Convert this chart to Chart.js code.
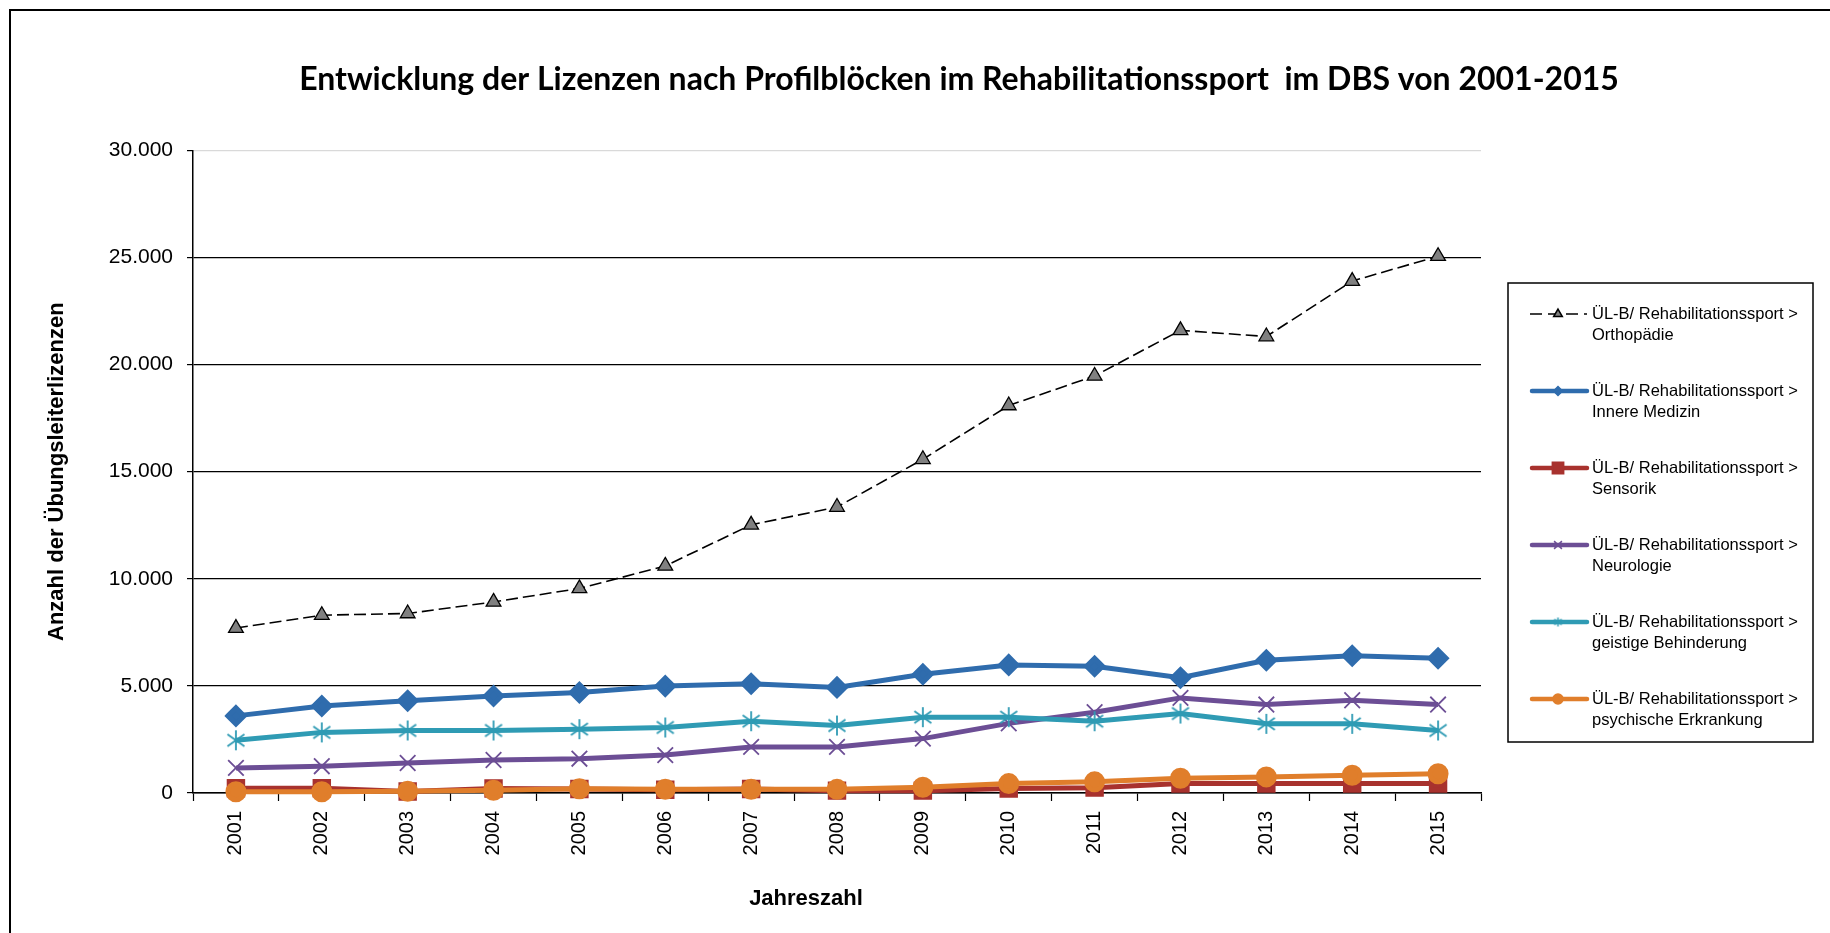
<!DOCTYPE html>
<html>
<head>
<meta charset="utf-8">
<title>Lizenzen nach Profilblöcken</title>
<script src="https://cdn.jsdelivr.net/npm/chart.js@4/dist/chart.umd.min.js"></script>
<style>
  body { margin: 0; background: #fff; }
  canvas { display: block; }
</style>
</head>
<body>
<canvas id="chartLizenzen" width="1830" height="933"></canvas>
<script>
const years = ['2001', '2002', '2003', '2004', '2005', '2006', '2007', '2008', '2009', '2010', '2011', '2012', '2013', '2014', '2015']

const orthopaedie = [7700, 8300, 8380, 8920, 9550, 10600, 12520, 13350, 15580, 18090, 19470, 21600, 21310, 23900, 25060]
const innereMedizin = [3600, 4060, 4310, 4530, 4690, 4990, 5100, 4930, 5540, 5980, 5920, 5380, 6200, 6410, 6290]
const sensorik = [220, 220, 70, 210, 190, 150, 190, 110, 110, 210, 250, 440, 440, 440, 440]
const neurologie = [1170, 1250, 1400, 1540, 1600, 1770, 2150, 2150, 2540, 3250, 3770, 4440, 4130, 4330, 4130]
const geistigeBehinderung = [2460, 2830, 2920, 2920, 2980, 3060, 3350, 3150, 3540, 3540, 3350, 3710, 3230, 3230, 2920]
const psychischeErkrankung = [60, 60, 80, 130, 200, 170, 170, 170, 270, 440, 520, 690, 750, 830, 900]

const labelPrefix = 'ÜL-B/ Rehabilitationssport >'
const seriesNames = ['Orthopädie', 'Innere Medizin', 'Sensorik', 'Neurologie', 'geistige Behinderung', 'psychische Erkrankung']

const yTicks = [0, 5000, 10000, 15000, 20000, 25000, 30000]

const blue = '#2f6cad'
const red = '#a8322e'
const purple = '#6c4e95'
const teal = '#2f9bb4'
const orange = '#e07e2b'

// asterisk marker like the Excel one (vertical bar + x)
function makeAsterisk(color, r, lw) {
    const c = document.createElement('canvas')
    c.width = c.height = r * 2 + 4
    const g = c.getContext('2d')
    const m = r + 2
    g.strokeStyle = color
    g.lineWidth = lw
    g.beginPath()
    g.moveTo(m, m - r); g.lineTo(m, m + r)
    const d = r * 0.85
    g.moveTo(m - d, m - d * 0.7); g.lineTo(m + d, m + d * 0.7)
    g.moveTo(m - d, m + d * 0.7); g.lineTo(m + d, m - d * 0.7)
    g.stroke()
    return c
}
const asteriskBig = makeAsterisk(teal, 10, 1.8)
const asteriskSmall = makeAsterisk(teal, 4.5, 1.5)

const formatDE = v => String(v).replace(/\B(?=(\d{3})+(?!\d))/g, '.')

const frame = {
    id: 'frame',
    afterLayout(chart) {
        // title is centred over the whole picture, not only the plot part
        const t = chart.titleBlock
        if (t) { t.left = 88; t.right = 1830 }
    },
    beforeDraw(chart) {
        const ctx = chart.ctx
        ctx.save()
        ctx.strokeStyle = '#000'
        ctx.lineWidth = 2
        ctx.beginPath()
        ctx.moveTo(10, 933)
        ctx.lineTo(10, 10)
        ctx.lineTo(1830, 10)
        ctx.stroke()
        ctx.restore()
    },
    afterDraw(chart) {
        const ctx = chart.ctx
        ctx.save()
        ctx.fillStyle = '#000'
        ctx.font = 'bold 22px "Liberation Sans", Arial, sans-serif'
        ctx.textAlign = 'center'
        ctx.textBaseline = 'middle'
        ctx.fillText('Jahreszahl', 806, 899)
        ctx.restore()
    }
}

// legend box with line samples and markers, drawn on the right
const sideLegend = {
    id: 'sideLegend',
    afterDraw(chart) {
        const ctx = chart.ctx
        ctx.save()
        ctx.strokeStyle = '#000'
        ctx.lineWidth = 1.5
        ctx.strokeRect(1508, 283, 305, 459)
        const markers = [
            { style: 'triangle', r: 5 },
            { style: 'rectRot', r: 4.5 },
            { style: 'rect', r: 8 },
            { style: 'crossRot', r: 5.5 },
            { style: asteriskSmall, r: 0 },
            { style: 'circle', r: 5 }
        ]
        chart.data.datasets.forEach((ds, i) => {
            const y = 314 + i * 77
            ctx.save()
            ctx.strokeStyle = ds.borderColor
            ctx.lineWidth = i === 0 ? 1.5 : 4.5
            ctx.lineCap = i === 0 ? 'butt' : 'round'
            ctx.setLineDash(i === 0 ? [12, 6] : [])
            ctx.beginPath()
            ctx.moveTo(i === 0 ? 1530 : 1532, y)
            ctx.lineTo(1587, y)
            ctx.stroke()
            ctx.restore()
            const mk = markers[i]
            if (mk.style instanceof HTMLCanvasElement) {
                ctx.drawImage(mk.style, 1558 - mk.style.width / 2, y - mk.style.height / 2)
            } else {
                ctx.fillStyle = ds.pointBackgroundColor
                ctx.strokeStyle = ds.pointBorderColor
                Chart.helpers.drawPoint(ctx, { pointStyle: mk.style, radius: mk.r, rotation: 0, borderWidth: 1.2 }, 1558, y)
            }
            ctx.fillStyle = '#000'
            ctx.font = '16.5px "Liberation Sans", Arial, sans-serif'
            ctx.textBaseline = 'middle'
            ctx.textAlign = 'left'
            ctx.fillText(labelPrefix, 1592, y)
            ctx.fillText(seriesNames[i], 1592, y + 21)
        })
        ctx.restore()
    }
}

const dataLizenzen = {
    labels: years,
    datasets: [
        {
            label: labelPrefix + ' ' + seriesNames[0],
            data: orthopaedie,
            borderColor: '#000',
            borderWidth: 1.6,
            borderDash: [12, 5],
            pointStyle: 'triangle',
            pointRadius: 8.5,
            pointBackgroundColor: '#808080',
            pointBorderColor: '#000',
            pointBorderWidth: 1.3,
            order: 6
        },
        {
            label: labelPrefix + ' ' + seriesNames[1],
            data: innereMedizin,
            borderColor: blue,
            borderWidth: 5,
            pointStyle: 'rectRot',
            pointRadius: 8,
            pointBackgroundColor: blue,
            pointBorderColor: blue,
            order: 5
        },
        {
            label: labelPrefix + ' ' + seriesNames[2],
            data: sensorik,
            borderColor: red,
            borderWidth: 5,
            pointStyle: 'rect',
            pointRadius: 9.5,
            pointBackgroundColor: red,
            pointBorderColor: red,
            order: 4
        },
        {
            label: labelPrefix + ' ' + seriesNames[3],
            data: neurologie,
            borderColor: purple,
            borderWidth: 5,
            pointStyle: 'crossRot',
            pointRadius: 11,
            pointBackgroundColor: purple,
            pointBorderColor: purple,
            pointBorderWidth: 1.8,
            order: 3
        },
        {
            label: labelPrefix + ' ' + seriesNames[4],
            data: geistigeBehinderung,
            borderColor: teal,
            borderWidth: 5,
            pointStyle: asteriskBig,
            pointRadius: 10,
            pointBackgroundColor: teal,
            pointBorderColor: teal,
            order: 2
        },
        {
            label: labelPrefix + ' ' + seriesNames[5],
            data: psychischeErkrankung,
            borderColor: orange,
            borderWidth: 5,
            pointStyle: 'circle',
            pointRadius: 8,
            pointBackgroundColor: orange,
            pointBorderColor: orange,
            order: 1
        }
    ]
}

const configLizenzen = {
    type: 'line',
    data: dataLizenzen,
    options: {
        responsive: false,
        animation: false,
        layout: {
            padding: { left: 10, right: 349, top: 0, bottom: 0 }
        },
        elements: {
            line: { tension: 0 },
            point: { hoverRadius: 8 }
        },
        datasets: {
            line: { clip: false }
        },
        plugins: {
            legend: { display: false },
            tooltip: { enabled: false },
            title: {
                display: true,
                text: 'Entwicklung der Lizenzen nach Profilblöcken im Rehabilitationssport  im DBS von 2001-2015',
                color: '#000',
                font: { family: 'Lato', weight: 'bold', size: 32 },
                padding: { top: 60, bottom: 52 }
            }
        },
        scales: {
            x: {
                offset: true,
                grid: {
                    offset: true,
                    drawOnChartArea: false,
                    drawTicks: true,
                    tickLength: 8,
                    tickColor: '#000',
                    tickWidth: 1.2
                },
                border: { color: '#000', width: 1.5 },
                ticks: {
                    color: '#000',
                    font: { family: '"Liberation Sans", Arial', size: 20 },
                    minRotation: 90,
                    maxRotation: 90,
                    autoSkip: false,
                    padding: 10
                },
                afterFit(scale) { scale.height = 140 }
            },
            y: {
                min: 0,
                max: 30000,
                afterBuildTicks(scale) { scale.ticks = yTicks.map(v => ({ value: v })) },
                grid: {
                    color: ctx => (ctx.tick && ctx.tick.value === 30000 ? '#d9d9d9' : '#000'),
                    lineWidth: 1.2,
                    tickLength: 6,
                    tickColor: '#000'
                },
                border: { color: '#000', width: 1.5 },
                ticks: {
                    color: '#000',
                    font: { family: '"Liberation Sans", Arial', size: 21 },
                    padding: 14,
                    callback: v => formatDE(v)
                },
                title: {
                    display: true,
                    text: 'Anzahl der Übungsleiterlizenzen',
                    color: '#000',
                    font: { family: '"Liberation Sans", Arial', weight: 'bold', size: 22 },
                    padding: { top: 34, bottom: 0 }
                },
                afterFit(scale) { scale.width = 183 }
            }
        }
    },
    plugins: [frame, sideLegend]
}

let chartLizenzen = new Chart(
    document.getElementById('chartLizenzen'),
    configLizenzen
)
</script>
</body>
</html>
